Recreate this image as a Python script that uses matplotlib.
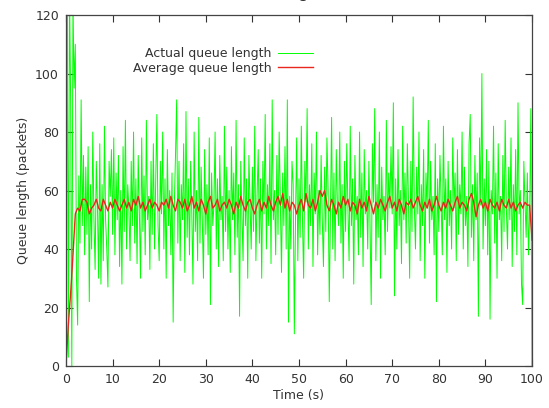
import numpy as np
import matplotlib.pyplot as plt

actual_q = [
    0, 135, 3, 130, 90, 0, 125, 95, 110, 30, 14, 65, 42, 91, 48, 72, 38, 68, 45, 75,
    22, 62, 40, 80, 50, 33, 70, 55, 30, 76, 28, 62, 36, 82, 50, 40, 27, 70, 58, 74,
    45, 78, 38, 66, 50, 72, 34, 60, 28, 75, 46, 84, 40, 62, 54, 36, 70, 48, 80, 42,
    64, 35, 72, 52, 30, 78, 46, 65, 38, 84, 50, 58, 33, 70, 45, 76, 40, 62, 86, 48,
    36, 70, 52, 80, 40, 64, 30, 74, 48, 60, 38, 66, 15, 55, 72, 91, 42, 70, 36, 62,
    50, 76, 32, 87, 44, 64, 38, 70, 52, 28, 80, 46, 60, 36, 85, 42, 68, 50, 30, 74,
    45, 62, 38, 78, 21, 66, 48, 55, 80, 40, 64, 34, 72, 50, 58, 36, 82, 46, 68, 40,
    60, 32, 75, 50, 66, 38, 84, 44, 62, 17, 70, 52, 36, 78, 48, 64, 30, 72, 55, 40,
    68, 46, 82, 36, 58, 74, 42, 64, 30, 70, 52, 86, 40, 62, 48, 76, 35, 91, 50, 60,
    38, 72, 45, 80, 55, 32, 66, 48, 75, 40, 91, 15, 58, 40, 70, 62, 11, 50, 78, 36,
    64, 44, 82, 50, 30, 70, 56, 88, 40, 62, 48, 76, 34, 66, 52, 80, 38, 60, 45, 72,
    50, 34, 68, 46, 78, 60, 22, 52, 85, 40, 66, 36, 74, 55, 48, 80, 42, 62, 30, 70,
    46, 76, 54, 36, 82, 48, 64, 28, 72, 50, 58, 38, 80, 44, 66, 34, 74, 52, 60, 40,
    70, 48, 21, 76, 56, 88, 36, 62, 44, 80, 30, 68, 50, 58, 38, 84, 46, 66, 54, 75,
    52, 90, 24, 64, 40, 74, 48, 60, 35, 82, 50, 66, 42, 76, 56, 30, 70, 46, 92, 55,
    40, 68, 52, 80, 36, 62, 48, 74, 30, 66, 54, 84, 42, 70, 50, 58, 38, 76, 22, 64,
    46, 72, 56, 38, 82, 50, 64, 32, 70, 48, 60, 40, 78, 54, 66, 36, 74, 45, 62, 52,
    80, 40, 68, 48, 58, 34, 76, 86, 44, 62, 36, 72, 50, 66, 17, 78, 55, 100, 40, 64,
    48, 74, 38, 70, 16, 60, 52, 82, 42, 66, 30, 76, 50, 58, 36, 72, 46, 84, 54, 40,
    68, 50, 78, 34, 62, 46, 74, 38, 90, 52, 60, 28, 21, 70, 56, 44, 66, 38, 52, 88,
    0,
]
t_actual = np.arange(len(actual_q)) * 0.25

# average queue length, sampled every 0.5 s
avg_q = [
    0, 14, 25, 38, 52, 54, 53, 57, 57, 56,
    52, 54, 55, 57, 54, 53, 57, 55, 53, 56,
    54, 57, 55, 53, 55, 57, 54, 56, 53, 57,
    55, 58, 54, 56, 53, 55, 57, 54, 56, 55,
    53, 56, 55, 57, 54, 58, 55, 53, 57, 56,
    54, 57, 53, 55, 58, 54, 56, 53, 57, 55,
    52, 56, 58, 54, 55, 57, 53, 55, 56, 54,
    57, 55, 52, 56, 54, 58, 55, 53, 56, 57,
    54, 52, 55, 57, 53, 56, 54, 58, 55, 53,
    56, 58, 55, 59, 54, 57, 53, 56, 55, 52,
    55, 57, 53, 59, 55, 54, 57, 53, 56, 60,
    58, 60, 55, 53, 57, 55, 52, 56, 54, 58,
    55, 57, 53, 56, 55, 52, 57, 54, 56, 53,
    58, 55, 52, 56, 54, 57, 55, 53, 56, 58,
    54, 56, 53, 57, 55, 52, 56, 55, 57, 54,
    56, 58, 55, 53, 56, 54, 57, 53, 55, 58,
    55, 53, 56, 54, 57, 55, 53, 56, 58, 54,
    56, 55, 53, 57, 59, 56, 51, 55, 57, 54,
    56, 53, 57, 55, 54, 56, 53, 57, 55, 54,
    57, 54, 56, 53, 55, 56, 54, 56, 55, 55,
    43,
]
t_avg = np.arange(len(avg_q)) * 0.5

plt.rcParams['font.family'] = 'DejaVu Sans'
plt.rcParams['font.size'] = 9

fig = plt.figure(figsize=(5.49, 4.08), dpi=100)
ax = fig.add_axes([0.1202, 0.1029, 0.8488, 0.8603])

ax.plot(t_actual, actual_q, color='#00ff00', lw=0.7, label='Actual queue length')
ax.plot(t_avg, avg_q, color='#e8281e', lw=1.0, label='Average queue length')

ax.set_xlim(0, 100)
ax.set_ylim(0, 120)
ax.set_xticks(range(0, 101, 10))
ax.set_yticks(range(0, 121, 20))
ax.tick_params(direction='in', top=True, right=True, length=5, width=0.8,
               colors='#333333', labelcolor='#333333', pad=5)
for s in ax.spines.values():
    s.set_color('#444444')
    s.set_linewidth(0.9)

ax.set_xlabel('Time (s)', color='#333333', labelpad=2)
ax.set_ylabel('Queue length (packets)', color='#333333', labelpad=4)

leg = ax.legend(loc='upper right', bbox_to_anchor=(0.530, 0.908), frameon=False,
                markerfirst=False, handlelength=2.8, handletextpad=0.5,
                labelspacing=0.1, borderpad=0, borderaxespad=0)
for txt in leg.get_texts():
    txt.set_color('#333333')

# title, cut off at the top edge of the picture as in the source image
fig.text(185 / 549, 1 + 3 / 408, '(a) Queue length', fontsize=12, va='baseline',
         ha='left', color='#333333')

fig.savefig('out.png', dpi=100)
